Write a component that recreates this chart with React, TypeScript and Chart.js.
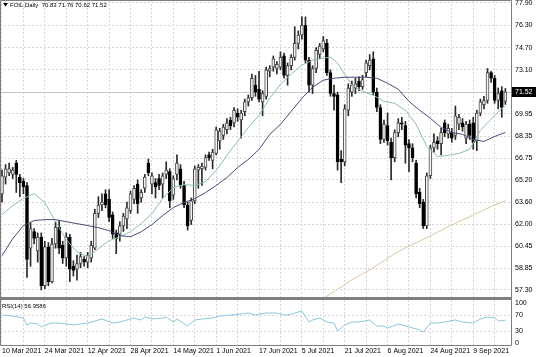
import React, { useEffect, useRef } from 'react';
import { Chart, registerables } from 'chart.js';

Chart.register(...registerables);

// ---------- data ----------
const dateLabels = ['10 Mar 2021', '24 Mar 2021', '12 Apr 2021', '28 Apr 2021', '14 May 2021', '1 Jun 2021', '17 Jun 2021', '5 Jul 2021', '21 Jul 2021', '6 Aug 2021', '24 Aug 2021', '9 Sep 2021'];

const opens = [
  64.2, 65.4, 65.7, 65.6, 66.4, 65.4, 65.1, 64.8, 60.3, 61.5,
  60.1, 61.1, 57.6, 60.4, 57.9, 60.6, 61.8, 60.5, 59.6, 61.1,
  59.0, 58.8, 59.2, 59.5, 59.3, 59.6, 60.3, 62.8, 63.4, 64.2,
  63.8, 62.7, 61.4, 61.3, 61.9, 62.4, 63.0, 63.8, 64.9, 63.9,
  64.6, 66.4, 64.9, 65.0, 65.3, 64.9, 65.6, 65.8, 64.1, 65.6,
  66.0, 64.8, 63.4, 62.3, 63.7, 65.9, 66.0, 66.1, 67.0, 66.6,
  67.1, 68.0, 68.4, 68.8, 69.5, 69.3, 70.0, 69.5, 70.1, 70.8,
  71.1, 72.0, 71.7, 70.8, 71.2, 73.0, 73.3, 73.2, 73.3, 74.1,
  72.7, 73.4, 74.0, 75.0, 75.6, 76.3, 73.8, 72.0, 73.2, 74.2,
  74.6, 75.0, 72.9, 71.4, 71.3, 66.7, 66.5, 70.2, 71.5, 71.8,
  72.3, 71.9, 72.9, 73.4, 73.9, 71.5, 70.4, 68.1, 69.1, 67.9,
  66.8, 68.6, 69.3, 69.1, 67.8, 67.5, 66.4, 64.3, 63.6, 61.9,
  65.5, 67.5, 68.0, 67.8, 69.3, 68.5, 68.6, 68.4, 69.2, 69.3,
  68.2, 69.2, 69.3, 68.0, 70.0, 70.6, 70.9, 72.9, 72.5, 70.9,
  71.6, 70.83,
];
const highs = [
  65.9, 66.3, 66.4, 66.1, 66.6, 65.6, 65.3, 65.0, 62.1, 61.7,
  61.4, 61.4, 60.8, 60.7, 61.0, 62.2, 62.3, 60.8, 61.4, 61.3,
  59.4, 59.8, 60.0, 59.7, 60.0, 60.8, 63.1, 64.0, 64.2, 64.5,
  64.5, 62.9, 61.6, 62.2, 62.8, 63.6, 64.4, 64.8, 65.2, 64.5,
  65.6, 66.7, 65.7, 65.3, 65.6, 65.7, 66.5, 66.0, 65.5, 67.0,
  66.3, 65.1, 63.6, 63.9, 66.2, 66.3, 66.4, 67.0, 67.2, 67.4,
  69.0, 68.9, 69.2, 69.6, 69.7, 70.4, 70.3, 70.2, 71.0, 71.3,
  72.8, 72.7, 73.0, 71.6, 73.3, 73.4, 74.1, 73.7, 74.4, 74.3,
  73.6, 74.2, 76.2, 75.9, 76.9, 76.9, 74.0, 73.4, 74.7, 75.0,
  75.5, 75.3, 73.1, 72.0, 71.5, 67.3, 70.6, 72.1, 72.3, 72.5,
  72.6, 72.7, 73.8, 74.2, 74.4, 71.8, 70.6, 69.5, 70.0, 68.2,
  68.8, 69.6, 69.7, 69.4, 68.1, 67.8, 66.6, 64.6, 63.8, 65.7,
  67.7, 68.5, 68.3, 68.9, 69.5, 69.2, 68.9, 70.5, 69.9, 69.6,
  69.4, 69.5, 69.7, 70.2, 71.0, 71.2, 73.2, 73.0, 72.7, 71.8,
  71.9, 71.76,
];
const lows = [
  63.6, 64.9, 65.5, 65.3, 64.3, 64.0, 64.2, 58.2, 59.0, 60.6,
  59.3, 57.3, 57.4, 57.6, 57.8, 60.3, 59.9, 59.2, 59.0, 57.9,
  58.3, 58.0, 58.9, 59.0, 58.9, 59.3, 60.2, 62.5, 63.0, 63.2,
  62.2, 61.0, 59.9, 60.8, 61.5, 61.7, 62.8, 63.5, 62.8, 63.6,
  64.3, 65.5, 64.2, 63.9, 64.5, 63.9, 65.3, 63.2, 63.8, 65.2,
  64.6, 63.2, 61.6, 62.0, 63.5, 64.6, 64.8, 65.9, 66.6, 66.0,
  67.0, 67.4, 68.1, 68.5, 68.8, 69.0, 69.4, 68.2, 69.8, 70.5,
  70.9, 71.2, 70.8, 69.8, 71.0, 72.6, 73.0, 72.8, 73.1, 72.5,
  72.0, 73.1, 73.8, 74.6, 75.3, 73.6, 71.5, 71.4, 72.9, 73.9,
  74.4, 72.7, 71.2, 70.2, 65.9, 65.0, 66.2, 69.8, 71.2, 71.4,
  71.6, 71.7, 72.6, 73.1, 71.3, 70.1, 67.8, 67.9, 67.7, 65.2,
  66.5, 68.3, 68.8, 66.4, 65.8, 66.5, 63.9, 63.2, 61.7, 61.7,
  65.3, 67.2, 67.4, 67.0, 68.3, 68.2, 67.9, 68.1, 68.8, 68.7,
  67.8, 68.1, 67.4, 67.3, 69.8, 70.3, 70.7, 72.2, 70.7, 70.3,
  69.7, 70.62,
];
const closes = [
  65.5, 66.0, 66.0, 65.9, 65.6, 65.0, 64.7, 59.5, 61.7, 61.0,
  61.1, 57.6, 60.4, 57.9, 60.6, 61.8, 60.3, 59.6, 61.1, 58.8,
  58.7, 59.2, 59.7, 59.3, 59.8, 60.5, 62.8, 63.4, 63.6, 63.4,
  62.5, 61.3, 61.0, 61.9, 62.6, 63.2, 64.2, 64.6, 63.5, 64.3,
  65.4, 65.7, 65.5, 64.7, 64.8, 65.5, 65.9, 63.7, 65.3, 66.4,
  64.8, 63.4, 61.9, 63.7, 66.0, 66.1, 66.2, 66.8, 66.8, 67.2,
  68.8, 68.7, 69.0, 69.3, 69.1, 70.2, 69.7, 70.0, 70.8, 71.1,
  72.5, 71.5, 71.0, 71.4, 73.1, 73.2, 73.9, 73.5, 74.0, 72.7,
  73.4, 74.0, 75.0, 75.6, 76.3, 73.8, 72.0, 73.2, 74.5, 74.8,
  75.2, 72.9, 71.4, 71.2, 66.5, 66.5, 70.3, 71.8, 72.0, 72.1,
  71.9, 72.4, 73.6, 73.8, 71.5, 70.4, 68.1, 69.2, 68.0, 66.8,
  68.6, 69.3, 69.2, 67.7, 67.5, 66.8, 64.2, 63.5, 61.9, 65.5,
  67.5, 67.9, 67.8, 68.6, 68.6, 68.9, 68.2, 69.8, 69.7, 69.0,
  69.2, 68.4, 67.9, 70.0, 70.8, 70.9, 72.9, 72.5, 70.9, 71.4,
  70.4, 71.52,
];

// fast moving average (teal), read at these bars
const fastMaIdx = [0, 3, 6, 9, 12, 15, 18, 21, 24, 27, 30, 33, 36, 39, 42, 45, 48, 51, 54, 57, 60, 63, 66, 69, 72, 75, 78, 81, 84, 87, 90, 92, 94, 96, 98, 101, 104, 107, 110, 113, 116, 119, 122, 125, 128, 131, 134, 137, 140, 141];
const fastMaVal = [62.71, 63.36, 63.86, 64.22, 63.57, 62.20, 60.91, 60.04, 59.68, 60.26, 60.84, 61.12, 61.48, 62.06, 62.78, 63.86, 64.65, 64.87, 64.80, 65.08, 65.88, 66.96, 67.96, 68.97, 69.84, 71.06, 72.07, 72.79, 73.44, 73.80, 73.94, 74.01, 73.58, 72.79, 72.00, 71.56, 71.28, 70.84, 70.70, 70.20, 69.19, 67.60, 66.88, 66.96, 67.10, 67.39, 68.76, 69.55, 70.34, 70.48];

// slow moving average (navy)
const slowMaIdx = [0, 3, 6, 9, 12, 15, 18, 21, 24, 27, 30, 33, 36, 39, 42, 45, 48, 51, 54, 57, 60, 63, 66, 69, 72, 75, 78, 81, 84, 87, 90, 93, 96, 99, 102, 105, 108, 111, 114, 117, 120, 123, 126, 129, 132, 135, 138, 141];
const slowMaVal = [59.76, 60.98, 61.92, 62.28, 62.35, 62.35, 62.20, 62.06, 61.92, 61.77, 61.56, 61.20, 61.12, 61.48, 61.99, 62.64, 63.22, 63.57, 63.86, 64.29, 64.80, 65.37, 66.09, 66.67, 67.39, 68.47, 69.19, 70.12, 71.06, 71.85, 72.36, 72.50, 72.57, 72.57, 72.57, 72.50, 72.14, 71.71, 70.84, 70.20, 69.62, 68.97, 68.61, 68.47, 68.11, 67.96, 68.32, 68.61];

// long moving average (tan)
const longMaIdx = [89, 92, 95, 98, 101, 104, 107, 110, 113, 116, 119, 122, 125, 128, 131, 134, 137, 140, 141];
const longMaVal = [56.52, 57.02, 57.52, 58.03, 58.46, 58.89, 59.40, 59.90, 60.33, 60.69, 61.05, 61.45, 61.84, 62.20, 62.56, 62.92, 63.28, 63.61, 63.72];

// RSI(14)
const rsiIdx = [0, 3, 6, 7, 8, 10, 11, 13, 14, 16, 18, 20, 22, 24, 26, 28, 31, 33, 36, 37, 39, 40, 42, 45, 46, 48, 49, 52, 54, 56, 59, 61, 64, 67, 69, 71, 74, 77, 79, 80, 82, 84, 86, 87, 89, 91, 93, 94, 96, 98, 100, 103, 105, 107, 108, 111, 114, 117, 118, 120, 122, 124, 127, 129, 132, 134, 136, 138, 139, 141];
const rsiVal = [70, 67.5, 62.5, 45, 50, 47.5, 40, 47.5, 50, 50, 47.5, 45, 47.5, 50, 55, 60, 50, 52.5, 60, 62.5, 57.5, 65, 60, 62.5, 65, 52.5, 60, 42.5, 57.5, 60, 62.5, 67.5, 70, 72.5, 75, 70, 75, 75, 70, 70, 75, 80, 52.5, 57.5, 62.5, 52.5, 50, 30, 45, 52.5, 52.5, 57.5, 42.5, 42.5, 37.5, 47.5, 40, 32.5, 27.5, 50, 50, 52.5, 57.5, 52.5, 50, 60, 65, 62.5, 55, 56.96];

const priceTicks = [57.30, 58.85, 60.45, 62.00, 63.60, 65.20, 66.75, 68.35, 69.95, 71.50, 73.10, 74.70, 76.30, 77.90];
const rsiTicks = [0, 30, 70, 100];
const lastPrice = 71.52;
const titleText = 'FOIL,Daily  70.83 71.76 70.62 71.52';
const rsiText = 'RSI(14) 56.9586';
const barsPerLabel = 12;
const barsPerGrid = 6;

// ---------- style ----------
const FONT = "'Liberation Sans', Arial, sans-serif";
const GRID = '#d6d6d6';
const FRAME = '#7f7f7f';
const BULL_FILL = '#f2f2f2';
const BULL_EDGE = '#4a4a4a';
const BEAR_FILL = '#000000';
const X_MIN = -0.56;
const X_MAX = 142.58;

const gridTicks = () => {
  const t = [];
  for (let v = 0; v < opens.length; v += barsPerGrid) t.push({ value: v });
  return t;
};

const xScale = (showLabels: boolean, height: number) => ({
  type: 'linear',
  min: X_MIN,
  max: X_MAX,
  offset: false,
  afterBuildTicks: (s: any) => { s.ticks = gridTicks(); },
  afterFit: (s: any) => { s.height = height; s.paddingLeft = 0; s.paddingRight = 0; },
  grid: { color: GRID, lineWidth: 1, drawTicks: false, offset: false },
  border: { display: false, dash: [2, 2] },
  ticks: {
    display: showLabels,
    autoSkip: false,
    maxRotation: 0,
    minRotation: 0,
    align: 'start',
    padding: 2,
    color: '#000',
    font: { family: FONT, size: 7 },
    callback: (v: number) => (v % barsPerLabel === 0 ? dateLabels[v / barsPerLabel] : ''),
  },
});

const yScale = (min: number, max: number, ticks: number[], fmt: (v: number) => string, gridColor: any) => ({
  position: 'right',
  min,
  max,
  afterBuildTicks: (s: any) => { s.ticks = ticks.map((v) => ({ value: v })); },
  afterFit: (s: any) => { s.width = 25; s.paddingTop = 0; s.paddingBottom = 0; },
  grid: { color: gridColor, lineWidth: 1, drawTicks: false },
  border: { display: false, dash: [2, 2] },
  ticks: { padding: 4, color: '#000', font: { family: FONT, size: 7 }, callback: fmt },
});

const lineSet = (idx: number[], val: number[], color: string, order = 0) => ({
  type: 'line',
  data: idx.map((i, k) => ({ x: i, y: val[k] })),
  borderColor: color,
  borderWidth: 1,
  pointRadius: 0,
  fill: false,
  tension: 0,
  order,
});

const mainDecor = {
  id: 'mainDecor',
  beforeDatasetsDraw(chart: any) {
    const { ctx, chartArea: a, scales } = chart;
    const py = Math.round(scales.y.getPixelForValue(lastPrice)) + 0.5;
    ctx.save();
    ctx.strokeStyle = '#c4c4c4';
    ctx.lineWidth = 1;
    ctx.beginPath();
    ctx.moveTo(a.left, py);
    ctx.lineTo(a.right, py);
    ctx.stroke();
    ctx.restore();
  },
  afterDraw(chart: any) {
    const { ctx, chartArea: a, scales } = chart;
    ctx.save();
    ctx.strokeStyle = FRAME;
    ctx.lineWidth = 1;
    ctx.beginPath();
    ctx.moveTo(a.left + 0.5, a.bottom);
    ctx.lineTo(a.left + 0.5, a.top + 0.5);
    ctx.lineTo(a.right + 0.5, a.top + 0.5);
    ctx.lineTo(a.right + 0.5, a.bottom);
    ctx.stroke();
    ctx.fillStyle = '#000';
    ctx.beginPath();
    ctx.moveTo(3, 3);
    ctx.lineTo(8, 3);
    ctx.lineTo(5.5, 6.5);
    ctx.closePath();
    ctx.fill();
    ctx.font = `6px ${FONT}`;
    ctx.textBaseline = 'middle';
    ctx.textAlign = 'left';
    ctx.fillText(titleText, 10, 5.5);
    const py = Math.round(scales.y.getPixelForValue(lastPrice));
    ctx.fillStyle = '#000';
    ctx.fillRect(a.right + 1, py - 5, chart.width - a.right - 1, 10);
    ctx.fillStyle = '#fff';
    ctx.font = `7px ${FONT}`;
    ctx.fillText(lastPrice.toFixed(2), a.right + 4, py + 0.5);
    ctx.restore();
  },
};

const rsiDecor = {
  id: 'rsiDecor',
  afterDraw(chart: any) {
    const { ctx, chartArea: a } = chart;
    ctx.save();
    ctx.strokeStyle = FRAME;
    ctx.lineWidth = 1;
    ctx.beginPath();
    ctx.moveTo(a.left + 0.5, a.top);
    ctx.lineTo(a.left + 0.5, a.bottom + 0.5);
    ctx.lineTo(a.right + 0.5, a.bottom + 0.5);
    ctx.lineTo(a.right + 0.5, a.top);
    ctx.stroke();
    ctx.fillStyle = '#000';
    ctx.font = `6px ${FONT}`;
    ctx.textBaseline = 'middle';
    ctx.textAlign = 'left';
    ctx.fillText(rsiText, 2, a.top + 6);
    ctx.restore();
  },
};

function mainConfig(): any {
  const idx = opens.map((_, i) => i);
  const bull = idx.map((i) => closes[i] >= opens[i]);
  return {
    type: 'bar',
    data: {
      datasets: [
        lineSet(slowMaIdx, slowMaVal, '#4a4a78'),
        lineSet(fastMaIdx, fastMaVal, '#8dbdae'),
        lineSet(longMaIdx, longMaVal, '#dcc4a4'),
        {
          type: 'bar',
          data: idx.map((i) => ({ x: i, y: [opens[i], closes[i]] })),
          backgroundColor: idx.map((i) => (bull[i] ? BULL_FILL : BEAR_FILL)),
          borderColor: idx.map((i) => (bull[i] ? BULL_EDGE : BEAR_FILL)),
          borderWidth: 1,
          borderSkipped: false,
          barThickness: 3,
          grouped: false,
          order: 1,
        },
        {
          type: 'bar',
          data: idx.map((i) => ({ x: i, y: [lows[i], highs[i]] })),
          backgroundColor: '#2a2a2a',
          borderWidth: 0,
          barThickness: 1,
          grouped: false,
          order: 2,
        },
      ],
    },
    options: {
      responsive: false,
      animation: false,
      devicePixelRatio: 1,
      events: [],
      layout: { padding: 0 },
      plugins: { legend: { display: false }, tooltip: { enabled: false } },
      scales: {
        x: xScale(false, 0),
        y: yScale(56.795, 78.115, priceTicks, (v: number) => (Math.abs(v - 71.5) < 0.001 ? '' : v.toFixed(2)), GRID),
      },
    },
    plugins: [mainDecor],
  };
}

function rsiConfig(): any {
  return {
    type: 'line',
    data: {
      datasets: [lineSet(rsiIdx, rsiVal, '#8cc6dc')],
    },
    options: {
      responsive: false,
      animation: false,
      devicePixelRatio: 1,
      events: [],
      layout: { padding: 0 },
      plugins: { legend: { display: false }, tooltip: { enabled: false } },
      scales: {
        x: xScale(true, 12),
        y: yScale(-5, 107.5, rsiTicks, (v: number) => String(v), (c: any) => (c.tick && (c.tick.value === 30 || c.tick.value === 70) ? GRID : 'rgba(0,0,0,0)')),
      },
    },
    plugins: [rsiDecor],
  };
}

export default function App() {
  const mainRef = useRef<HTMLCanvasElement>(null);
  const rsiRef = useRef<HTMLCanvasElement>(null);
  useEffect(() => {
    const main = new Chart(mainRef.current as HTMLCanvasElement, mainConfig());
    const rsi = new Chart(rsiRef.current as HTMLCanvasElement, rsiConfig());
    return () => {
      main.destroy();
      rsi.destroy();
    };
  }, []);
  return (
    <div style={{ position: 'fixed', left: 0, top: 0, width: 536, height: 357, background: '#fff', overflow: 'hidden' }}>
      <canvas ref={mainRef} width={536} height={297} style={{ position: 'absolute', left: 0, top: 0, width: 536, height: 297 }} />
      <div style={{ position: 'absolute', left: 0, top: 297, width: 512, height: 3, background: '#808080' }} />
      <canvas ref={rsiRef} width={536} height={57} style={{ position: 'absolute', left: 0, top: 300, width: 536, height: 57 }} />
    </div>
  );
}
